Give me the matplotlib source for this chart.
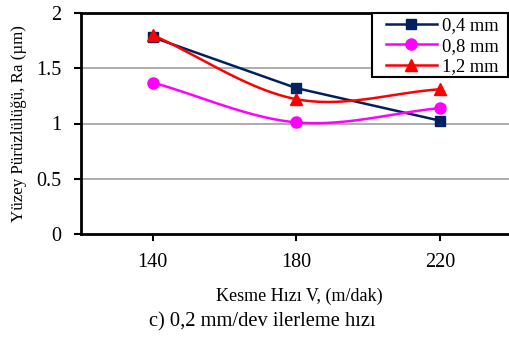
import numpy as np
import matplotlib
matplotlib.use("Agg")
import matplotlib.pyplot as plt
from matplotlib.patches import Rectangle

categories = ["140", "180", "220"]
s04 = [1.78, 1.32, 1.025]
s08 = [1.37, 1.01, 1.14]
s12 = [1.80, 1.22, 1.31]
labels = ["0,4 mm", "0,8 mm", "1,2 mm"]

plt.rcParams['font.family'] = ['Liberation Serif', 'DejaVu Serif']

def smooth(y, n=40):
    # Catmull-Rom style smoothing (like spreadsheet smoothed lines)
    x = np.arange(len(y), dtype=float)
    y = np.asarray(y, dtype=float)
    P = np.column_stack([x, y])
    P = np.vstack([P[0] - (P[1] - P[0]), P, P[-1] + (P[-1] - P[-2])])
    out = []
    for i in range(1, len(P) - 2):
        p0, p1, p2, p3 = P[i - 1], P[i], P[i + 1], P[i + 2]
        c1 = p1 + (p2 - p0) / 6.0
        c2 = p2 - (p3 - p1) / 6.0
        t = np.linspace(0, 1, n)[:, None]
        b = (1 - t) ** 3 * p1 + 3 * (1 - t) ** 2 * t * c1 + 3 * (1 - t) * t ** 2 * c2 + t ** 3 * p2
        out.append(b if i == 1 else b[1:])
    out = np.vstack(out)
    return out[:, 0], out[:, 1]

W, H = 510, 341
fig = plt.figure(figsize=(W / 100, H / 100), dpi=100)
ax = fig.add_axes([81 / W, 1 - 234 / H, (512 - 81) / W, (234 - 13) / H])

xi = np.arange(len(categories))
ax.plot(xi, s04, color="#002060", lw=1.8, marker="s", ms=7, label=labels[0], zorder=3)
sx, sy = smooth(s08)
ax.plot(sx, sy, color="#ff00ff", lw=1.8, zorder=3)
ax.plot(xi, s08, color="#ff00ff", lw=0, marker="o", ms=8, zorder=3)
ax.plot([], [], color="#ff00ff", lw=1.8, marker="o", ms=8, label=labels[1])
sx, sy = smooth(s12)
ax.plot(sx, sy, color="#ff0000", lw=1.8, zorder=3)
ax.plot(xi, s12, color="#ff0000", lw=0, marker="^", ms=8, zorder=3)
ax.plot([], [], color="#ff0000", lw=1.8, marker="^", ms=8, label=labels[2])

ax.set_xlim(-0.5, 2.5)
ax.set_ylim(0, 2)
ax.set_xticks(xi)
ax.set_xticklabels(categories)
ax.set_yticks([0, 0.5, 1, 1.5, 2])
ax.set_yticklabels(["0", "0.5", "1", "1.5", "2"])
ax.tick_params(axis="both", direction="out", length=5, width=1.5, labelsize=14.5, colors="black")
ax.tick_params(axis="x", pad=9)
ax.tick_params(axis="y", pad=9)
for y in [0.5, 1, 1.5]:
    ax.axhline(y, color="#a0a0a0", lw=1.2, zorder=1)
for s in ["left", "bottom", "top"]:
    ax.spines[s].set_linewidth(2)
ax.spines["right"].set_visible(False)

ax.set_xlabel("Kesme Hızı V, (m/dak)", fontsize=13)
ax.xaxis.set_label_coords((299.5 - 81) / 431, -(296 - 234) / 221)
ax.xaxis.label.set_va("center")
ax.yaxis.set_label_coords(-54 / 431, (234 - 131) / 221)
ax.set_ylabel("Yüzey Pürüzlülüğü, Ra (µm)", fontsize=12.2)

# legend frame box
box = Rectangle((372 / W, 1 - 77 / H), (508.5 - 372) / W, (77 - 13) / H, transform=fig.transFigure,
                facecolor="white", edgecolor="black", lw=1.5, zorder=4, clip_on=False)
ax.add_artist(box)
leg = ax.legend(loc="upper right", bbox_to_anchor=(499 / W, 1 - 17 / H), bbox_transform=fig.transFigure,
                frameon=False, fontsize=13.3, handlelength=2.8, borderpad=0,
                labelspacing=0.2, handletextpad=0.27, borderaxespad=0)
leg.set_zorder(5)

fig.text(262 / W, 1 - 322 / H, "c) 0,2 mm/dev ilerleme hızı", ha="center", va="center", fontsize=14.8)

fig.savefig("out.png", dpi=100)
